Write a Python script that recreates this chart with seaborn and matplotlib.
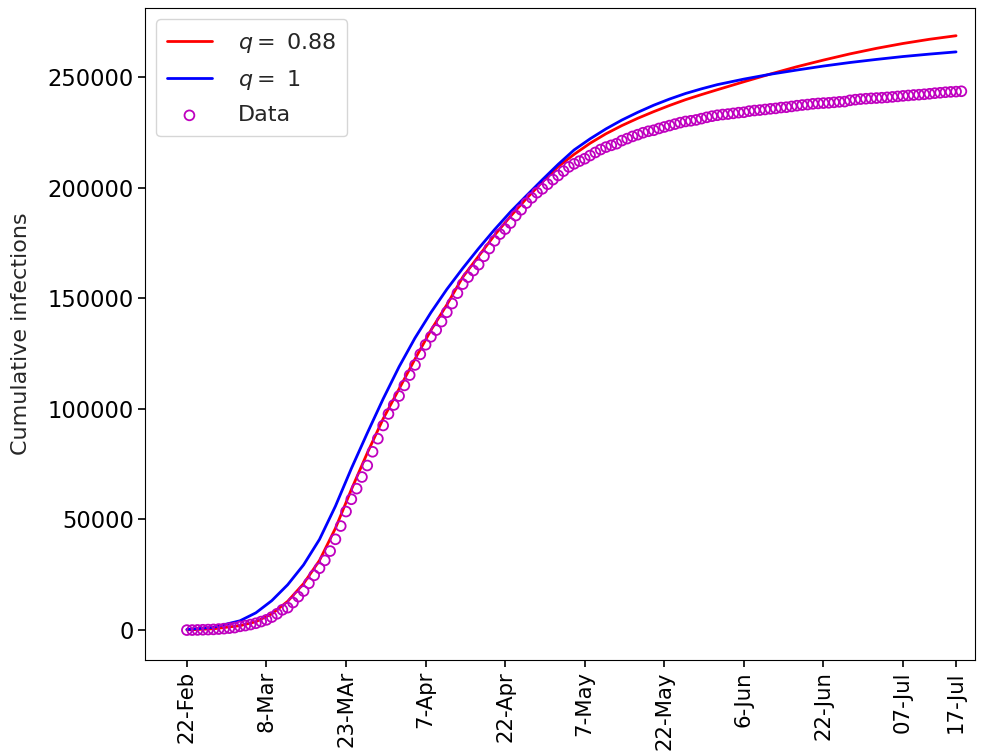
import matplotlib
matplotlib.use("Agg")
import matplotlib.pyplot as plt
import seaborn as sns
import pandas as pd

# ---- data ----
tick_days = [0, 15, 30, 45, 60, 75, 90, 105, 120, 135, 145]
tick_labels = ["22-Feb", "8-Mar", "23-MAr", "7-Apr", "22-Apr", "7-May",
               "22-May", "6-Jun", "22-Jun", "07-Jul", "17-Jul"]

data_values = [
    3, 20, 79, 157, 229, 323, 470, 655, 889, 1128,
    1694, 2036, 2502, 3089, 3858, 4636, 5883, 7375, 9172, 10149, 12462, 15113,
    17660, 21157, 24747, 27980, 31506, 35713, 41035, 47021, 53578, 59138, 63927,
    69176, 74386, 80589, 86498, 92472, 97689, 101739, 105792,
    110574, 115242, 119827, 124632, 128948, 132547, 135586, 139422, 143626,
    147577, 152271, 156363, 159516, 162488, 165155, 168941, 172434, 175925,
    178972, 181228, 183957, 187327, 189973, 192994, 195351, 197675, 199414,
    201505, 203591, 205463,
    207428, 209328, 210717, 211938, 213013, 214457, 215858, 217185, 218268,
    219070, 219814, 221216, 222104, 223096, 223885, 224760, 225435, 225886,
    226699, 227364, 228006, 228658, 229327, 229858, 230158, 230555, 231139,
    231732, 232248, 232664, 232997,
    233197, 233515, 233836, 234013, 234531, 234801, 234998, 235278, 235561,
    235763, 236142, 236305, 236651, 236989, 237290, 237500, 237828, 238011,
    238159, 238275, 238499, 238720, 238833, 239410, 239706, 239961, 240136,
    240310, 240436, 240578,
    240760, 240961, 241184, 241419, 241611, 241819, 241956, 242149, 242363,
    242639, 242827, 243061, 243230, 243344, 243506,
]
data_days = list(range(len(data_values)))

fit_days = [0, 5, 10, 13, 16, 19, 22, 25, 28, 31, 34, 37, 40, 43, 46, 49, 52,
            55, 58, 61, 64, 67, 70, 73, 76, 79, 82, 85, 88, 91, 94, 97, 100,
            105, 110, 115, 120, 125, 130, 135, 140, 145]
q088_values = [100, 600, 2000, 3800, 7300, 13000, 21000, 31500, 46000, 63500,
               80000, 95500, 109000, 122500, 135500, 147000, 159500, 169000,
               178500, 187000, 195000, 202500, 209500, 215000, 220000, 224300,
               228000, 231300, 234300, 237100, 239700, 242000, 244200, 247800,
               251300, 254600, 257600, 260400, 262900, 265100, 267000, 268600]
q1_values = [300, 1300, 4200, 7800, 13300, 20500, 29500, 41000, 56000, 73000,
             89000, 104500, 119000, 132000, 143500, 154000, 163500, 172500,
             181000, 189000, 196300, 203500, 210500, 217000, 222000, 226500,
             230500, 234000, 237200, 240000, 242500, 244600, 246500, 249000,
             251200, 253100, 254900, 256500, 257900, 259200, 260300, 261300]

df_fit = pd.DataFrame({"day": fit_days, "q088": q088_values, "q1": q1_values})
df_data = pd.DataFrame({"day": data_days, "cases": data_values})

# ---- style ----
sns.set_style("ticks", {"axes.edgecolor": "black", "xtick.color": "black",
                        "ytick.color": "black", "axes.linewidth": 1.2})
plt.rcParams["font.family"] = ["DejaVu Sans"]
plt.rcParams["font.size"] = 16

fig = plt.figure(figsize=(9.89, 7.54), dpi=100)
ax = fig.add_axes([0.1466, 0.1247, 0.8394, 0.8643])

sns.lineplot(data=df_fit, x="day", y="q088", ax=ax, color="red", lw=2,
             label=r"$q=$ 0.88")
sns.lineplot(data=df_fit, x="day", y="q1", ax=ax, color="blue", lw=2,
             label=r"$q=$ 1")
sns.scatterplot(data=df_data, x="day", y="cases", ax=ax, marker="o", s=50,
                facecolor="none", edgecolor="m", linewidth=1.3, label="Data",
                zorder=3)

ax.set_xlim(-7.9, 148.6)
ax.set_ylim(-13500, 281000)
ax.set_xticks(tick_days)
ax.set_xticklabels(tick_labels, rotation=90)
ax.set_yticks([0, 50000, 100000, 150000, 200000, 250000])
ax.set_yticklabels(["0", "50000", "100000", "150000", "200000", "250000"])
ax.tick_params(axis="y", labelsize=16.3, length=5, width=1.2, pad=3)
ax.tick_params(axis="x", labelsize=15.3, length=5, width=1.2, pad=3)
ax.set_xlabel("")
ax.set_ylabel("Cumulative infections", fontsize=16, labelpad=12)

leg = ax.legend(loc="upper left", fontsize=16, frameon=True, borderpad=0.5,
                handletextpad=1.2, labelspacing=0.6)
for spine in ax.spines.values():
    spine.set_visible(True)

fig.savefig("out.png", dpi=100)
